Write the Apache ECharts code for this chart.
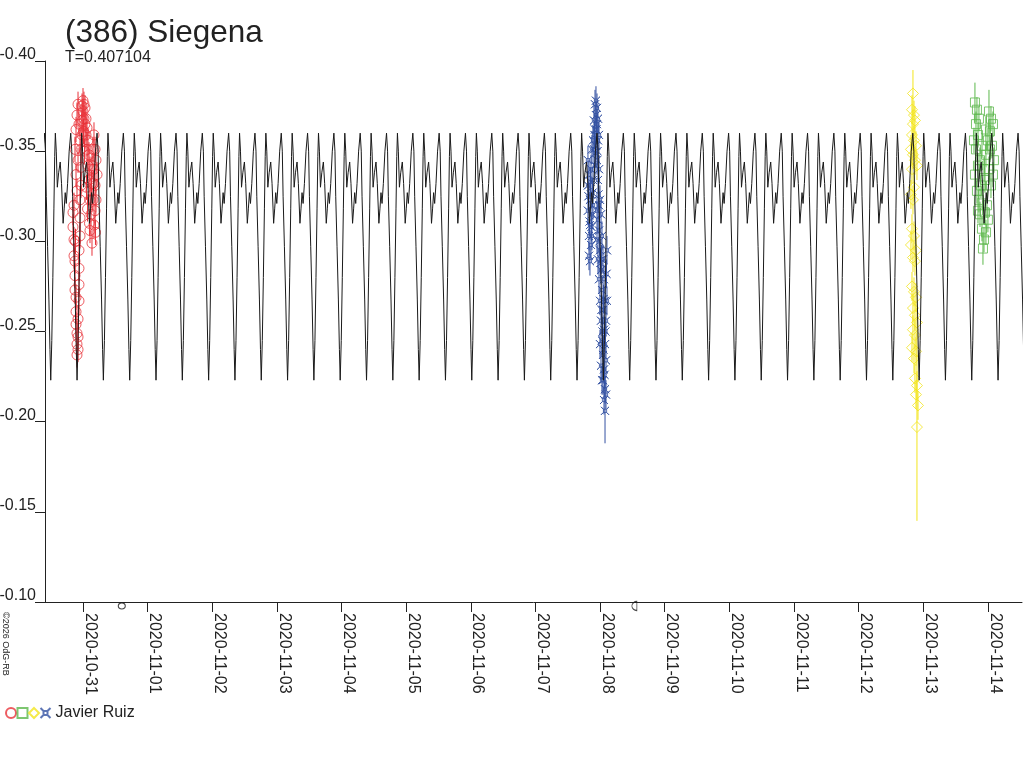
<!DOCTYPE html>
<html lang="en">
<head>
  <meta charset="utf-8" />
  <title>(386) Siegena</title>
  <style>
    html, body { margin: 0; padding: 0; background: #fff; }
    #container { width: 1024px; height: 768px; }
  </style>
</head>
<body>
  <div id="container"></div>
  <script type="text/javascript" src="https://fastly.jsdelivr.net/npm/echarts@6.0.0/dist/echarts.min.js"></script>
  <script type="text/javascript">
// x values are days counted from 2020-10-31 00:00 UT, y values are magnitudes
var dateLabels = ['2020-10-31', '2020-11-01', '2020-11-02', '2020-11-03', '2020-11-04',
  '2020-11-05', '2020-11-06', '2020-11-07', '2020-11-08', '2020-11-09', '2020-11-10',
  '2020-11-11', '2020-11-12', '2020-11-13', '2020-11-14'];
var dayTicks = dateLabels.map(function (d, i) { return i; });
var xMin = -0.588, xMax = 14.527;

// model lightcurve, one rotation (phase 0 = deep minimum)
var period = 0.407104;
var epoch = 1.1293;
var modelPhase = [0.00, 0.04, 0.08, 0.12, 0.15, 0.175, 0.21, 0.25, 0.30, 0.36, 0.41, 0.47,
  0.51, 0.55, 0.59, 0.64, 0.70, 0.76, 0.80, 0.83, 0.88, 0.93, 0.97];
var modelMag = [-0.223, -0.245, -0.280, -0.318, -0.347, -0.360, -0.350, -0.330, -0.338, -0.344,
  -0.332, -0.310, -0.318, -0.327, -0.321, -0.332, -0.350, -0.360, -0.350, -0.325, -0.297,
  -0.268, -0.240];

// observations [day, mag, (error)]
var redPts = [
  [-0.155, -0.316], [-0.155, -0.308], [-0.139, -0.301], [-0.139, -0.292], [-0.124, -0.289],
  [-0.124, -0.281], [-0.124, -0.273], [-0.108, -0.269], [-0.108, -0.261], [-0.108, -0.254],
  [-0.093, -0.249], [-0.093, -0.243], [-0.093, -0.237], [-0.077, -0.240], [-0.077, -0.247],
  [-0.077, -0.257], [-0.062, -0.267], [-0.062, -0.276], [-0.062, -0.285], [-0.062, -0.295],
  [-0.046, -0.303], [-0.046, -0.313], [-0.046, -0.323], [-0.031, -0.331], [-0.031, -0.341],
  [-0.031, -0.351], [-0.015, -0.359], [-0.015, -0.367], [-0.015, -0.375], [0.000, -0.378],
  [0.000, -0.372], [0.015, -0.376], [0.015, -0.368], [0.031, -0.374], [0.031, -0.365],
  [0.046, -0.368], [0.046, -0.359], [0.062, -0.363], [0.062, -0.351], [0.077, -0.356],
  [0.077, -0.342], [0.093, -0.348], [0.093, -0.334], [0.108, -0.340], [0.108, -0.323],
  [0.108, -0.306], [0.124, -0.328], [0.124, -0.315], [0.139, -0.342], [0.139, -0.299],
  [0.155, -0.351], [0.155, -0.323], [0.170, -0.359], [0.170, -0.340], [0.170, -0.309],
  [0.186, -0.351], [0.186, -0.331], [0.186, -0.317], [0.201, -0.345], [0.201, -0.323],
  [0.217, -0.337], [-0.124, -0.351], [-0.108, -0.362], [-0.093, -0.370], [-0.077, -0.376],
  [-0.062, -0.365], [-0.046, -0.356], [-0.108, -0.337], [-0.077, -0.345], [-0.093, -0.328],
  [0.054, -0.330], [0.070, -0.318], [0.100, -0.310], [0.132, -0.332], [0.163, -0.332],
  [0.193, -0.305], [0.024, -0.350], [0.008, -0.361], [-0.139, -0.320], [-0.116, -0.300]
];
var bluePts = [
  [7.812, -0.345], [7.812, -0.331], [7.812, -0.317], [7.828, -0.303], [7.828, -0.292],
  [7.828, -0.337], [7.843, -0.323], [7.843, -0.309], [7.843, -0.289], [7.859, -0.340],
  [7.859, -0.326], [7.859, -0.298], [7.874, -0.351], [7.874, -0.315], [7.874, -0.303],
  [7.890, -0.356], [7.890, -0.334], [7.890, -0.320], [7.905, -0.367], [7.905, -0.351],
  [7.921, -0.376], [7.921, -0.362], [7.921, -0.342], [7.936, -0.378], [7.936, -0.370],
  [7.936, -0.353], [7.952, -0.374], [7.952, -0.365], [7.952, -0.345], [7.967, -0.368],
  [7.967, -0.356], [7.967, -0.334], [7.983, -0.359], [7.983, -0.340], [7.952, -0.317],
  [7.952, -0.301], [7.967, -0.312], [7.967, -0.290], [7.983, -0.320], [7.983, -0.306],
  [7.983, -0.279], [7.998, -0.323], [7.998, -0.295], [7.998, -0.267], [8.014, -0.315],
  [8.014, -0.284], [8.014, -0.256], [8.029, -0.303], [8.029, -0.273], [8.029, -0.245],
  [8.045, -0.290], [8.045, -0.262], [8.045, -0.237], [8.045, -0.223], [8.060, -0.279],
  [8.060, -0.251], [8.060, -0.229], [8.060, -0.212], [8.076, -0.267], [8.076, -0.243],
  [8.076, -0.218], [8.076, -0.206, 0.018], [8.091, -0.256], [8.091, -0.234], [8.091, -0.215],
  [8.106, -0.295], [8.106, -0.267], [8.029, -0.223], [8.014, -0.231], [7.998, -0.243],
  [7.820, -0.325], [7.836, -0.311], [7.851, -0.333], [7.866, -0.308], [7.882, -0.327],
  [7.913, -0.359], [7.928, -0.349], [7.944, -0.362], [7.959, -0.350], [7.975, -0.326],
  [7.990, -0.300], [8.006, -0.288], [8.021, -0.262], [8.037, -0.250], [8.052, -0.240],
  [8.068, -0.226], [8.083, -0.250], [8.099, -0.282], [8.021, -0.290], [8.052, -0.268]
];
var yellowPts = [
  [12.840, -0.382, 0.013], [12.825, -0.373], [12.856, -0.370], [12.840, -0.365], [12.871, -0.367],
  [12.825, -0.359], [12.856, -0.356], [12.887, -0.353], [12.809, -0.351], [12.840, -0.348],
  [12.871, -0.345], [12.902, -0.342], [12.825, -0.340], [12.856, -0.330], [12.809, -0.326],
  [12.840, -0.323], [12.825, -0.307], [12.856, -0.303], [12.809, -0.298], [12.887, -0.295],
  [12.840, -0.291], [12.871, -0.289], [12.825, -0.275], [12.856, -0.272], [12.887, -0.269],
  [12.840, -0.263], [12.871, -0.259], [12.902, -0.255], [12.840, -0.251], [12.871, -0.248],
  [12.825, -0.241], [12.887, -0.239], [12.856, -0.235], [12.871, -0.224], [12.902, -0.220],
  [12.887, -0.215], [12.918, -0.209], [12.902, -0.197, 0.052]
];
var greenPts = [
  [13.799, -0.377, 0.011], [13.830, -0.373], [13.861, -0.368], [13.815, -0.365], [14.016, -0.372, 0.012],
  [14.047, -0.368], [14.078, -0.365], [14.031, -0.361], [13.784, -0.356], [13.815, -0.351],
  [13.846, -0.359], [13.877, -0.345], [13.908, -0.353], [13.939, -0.340], [13.969, -0.348],
  [14.000, -0.356], [14.031, -0.351], [14.062, -0.353], [14.093, -0.345], [13.799, -0.337],
  [13.830, -0.328], [13.861, -0.323], [13.892, -0.331], [13.923, -0.326], [13.954, -0.334],
  [13.985, -0.320], [14.016, -0.340], [14.047, -0.331], [14.078, -0.337], [13.846, -0.342],
  [13.969, -0.362], [13.877, -0.315], [13.908, -0.307], [13.939, -0.301], [13.969, -0.305],
  [14.000, -0.312], [13.923, -0.296, 0.009], [13.954, -0.316], [13.846, -0.317]
];
var redErr = 0.007, blueErr = 0.008, yellowErr = 0.008, greenErr = 0.007;

// moon phase marks under the axis: full moon, last quarter
var fullMoon = [[0.60, -0.0978]];
var lastQuarter = [[8.53, -0.0978]];

var observer = 'Javier Ruiz';
var sessionNames = ['red', 'green', 'yellow', 'blue'];

var FONT = '"Liberation Sans", Arial, sans-serif';
var TXT = '#222';

var dom = document.getElementById('container');
var myChart = echarts.init(dom, null, { renderer: 'canvas' });

function buildModel() {
  var pts = [];
  var k0 = Math.floor((xMin - epoch) / period) - 1;
  var k1 = Math.ceil((xMax - epoch) / period) + 1;
  for (var k = k0; k <= k1; k++) {
    for (var i = 0; i < modelPhase.length; i++) {
      pts.push([epoch + (k + modelPhase[i]) * period, modelMag[i]]);
    }
  }
  return pts;
}

function withErr(pts, err) {
  return pts.map(function (p) { return [p[0], p[1], p[2] != null ? p[2] : err]; });
}

function errorBars(name, pts, err, color) {
  return {
    name: name + ' err',
    type: 'custom',
    data: withErr(pts, err),
    encode: { x: 0, y: 1 },
    silent: true,
    z: 2,
    renderItem: function (params, api) {
      var x = api.value(0), y = api.value(1), e = api.value(2);
      var a = api.coord([x, y - e]);
      var b = api.coord([x, y + e]);
      return {
        type: 'line',
        shape: { x1: a[0], y1: a[1], x2: b[0], y2: b[1] },
        style: { stroke: color, lineWidth: 1 }
      };
    }
  };
}

function points(name, pts, symbol, size, color) {
  return {
    name: name,
    type: 'scatter',
    data: pts.map(function (p) { return [p[0], p[1]]; }),
    symbol: symbol,
    symbolSize: size,
    itemStyle: { color: 'transparent', borderColor: color, borderWidth: 1 },
    z: 3
  };
}

var blueSymbol = 'path://M0,0L3,3L7,3L10,0M10,10L7,7L3,7L0,10M0,0L3,3L3,7L0,10M10,0L7,3L7,7L10,10';

var option = {
  animation: false,
  title: {
    text: '(386) Siegena',
    subtext: 'T=0.407104',
    left: 60,
    top: 12,
    itemGap: 1,
    textStyle: { fontSize: 31.5, fontWeight: 'normal', color: TXT, fontFamily: FONT },
    subtextStyle: { fontSize: 16, color: TXT, fontFamily: FONT }
  },
  legend: {
    left: 5,
    top: 705,
    padding: 0,
    itemWidth: 10,
    itemHeight: 10,
    itemGap: -0.5,
    selectedMode: false,
    data: sessionNames,
    formatter: function (n) { return n === 'blue' ? observer : ''; },
    textStyle: { fontSize: 16, color: TXT, fontFamily: FONT }
  },
  grid: { left: 45, right: 2, top: 61, bottom: 166, containLabel: false, outerBoundsMode: 'none' },
  xAxis: {
    type: 'value',
    min: xMin,
    max: xMax,
    splitLine: { show: false },
    axisLine: { onZero: false, lineStyle: { color: TXT, width: 1 } },
    axisTick: { length: 10, customValues: dayTicks, lineStyle: { color: TXT } },
    axisLabel: {
      customValues: dayTicks,
      rotate: -90,
      margin: 11,
      verticalAlign: 'bottom',
      lineHeight: 14,
      fontSize: 16,
      color: TXT,
      fontFamily: FONT,
      formatter: function (v) { return dateLabels[Math.round(v)]; }
    }
  },
  yAxis: {
    type: 'value',
    inverse: true,
    min: -0.40,
    max: -0.10,
    interval: 0.05,
    splitLine: { show: false },
    axisLine: { show: true, onZero: false, lineStyle: { color: TXT, width: 1 } },
    axisTick: { show: true, length: 10, lineStyle: { color: TXT } },
    axisLabel: {
      margin: 9,
      verticalAlign: 'bottom',
      lineHeight: 12,
      fontSize: 16,
      color: TXT,
      fontFamily: FONT,
      formatter: function (v) { return v.toFixed(2); }
    }
  },
  graphic: [{
    type: 'text',
    x: 1,
    y: 612,
    rotation: -Math.PI / 2,
    style: {
      text: '\u00a92026 OdG-RB',
      font: '9px ' + FONT,
      fill: TXT,
      verticalAlign: 'bottom'
    }
  }],
  series: [
    errorBars('red', redPts, redErr, '#e8333a'),
    errorBars('blue', bluePts, blueErr, '#3552a3'),
    errorBars('yellow', yellowPts, yellowErr, '#f3e51d'),
    errorBars('green', greenPts, greenErr, '#5cb84c'),
    points('red', redPts, 'circle', 10, '#e8333a'),
    points('green', greenPts, 'rect', 9, '#5cb84c'),
    points('yellow', yellowPts, 'diamond', 11, '#f3e51d'),
    points('blue', bluePts, blueSymbol, 8, '#3552a3'),
    {
      name: 'model',
      type: 'line',
      data: buildModel(),
      showSymbol: false,
      symbol: 'none',
      sampling: null,
      lineStyle: { color: '#1a1a1a', width: 1 },
      silent: true,
      z: 4
    },
    {
      name: 'full moon',
      type: 'scatter',
      data: fullMoon,
      clip: false,
      symbol: 'circle',
      symbolSize: [7, 6],
      itemStyle: { color: 'transparent', borderColor: '#1a1a1a', borderWidth: 1 },
      silent: true
    },
    {
      name: 'last quarter',
      type: 'scatter',
      data: lastQuarter,
      clip: false,
      symbol: 'path://M6,0A6,6 0 0 0 6,12Z',
      symbolSize: [5, 9],
      itemStyle: { color: 'transparent', borderColor: '#1a1a1a', borderWidth: 1 },
      silent: true
    }
  ]
};

if (option && typeof option === 'object') {
  myChart.setOption(option);
}

window.addEventListener('resize', myChart.resize);
  </script>
</body>
</html>
